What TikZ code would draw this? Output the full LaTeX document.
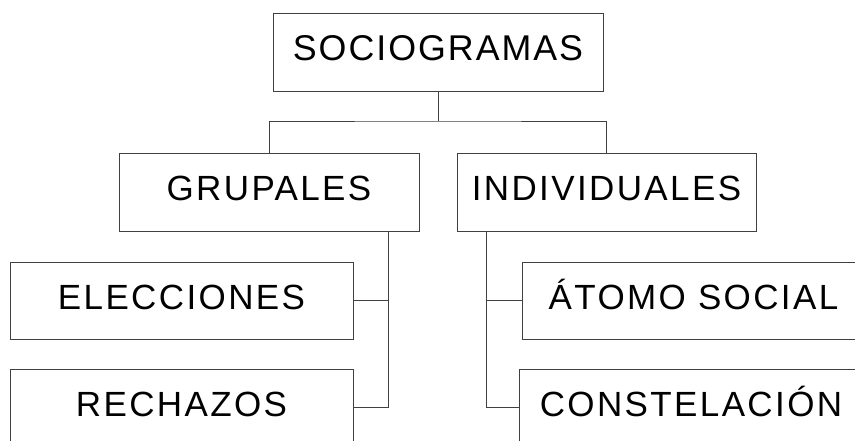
\documentclass[tikz,border=0pt]{standalone}
\usepackage{fontspec}
\setmainfont{Liberation Sans}
\newfontfamily\lowf[LetterSpace=6.8]{Liberation Sans}
\newfontfamily\topf[LetterSpace=5.5]{Liberation Sans}
\usetikzlibrary{positioning}
\tikzset{
  boxnode/.style={draw=black!75, line width=0.9pt, inner sep=0pt, text height=25pt, text depth=7pt},
  lowtext/.style={font=\lowf\fontsize{35}{42}\selectfont},
  toptext/.style={font=\topf\fontsize{35.8}{43}\selectfont},
  conn/.style={draw=black!75, line width=0.9pt}
}
\begin{document}
\begin{tikzpicture}[x=1pt,y=-1pt]
\useasboundingbox (0,0) rectangle (855,441);
\node[boxnode,toptext,minimum width=330pt,minimum height=78pt, text height=25.6pt, text depth=8pt] (soc) at (438,52) {SOCIOGRAMAS};
\node[boxnode,lowtext,minimum width=300pt,minimum height=78pt] (gru) at (269,192) {GRUPALES};
\node[boxnode,lowtext,minimum width=299pt,minimum height=78pt] (ind) at (606.5,192) {INDIVIDUALES};
\node[boxnode,lowtext,minimum width=343pt,minimum height=77pt] (ele) at (181.5,300.5) {ELECCIONES};
\node[boxnode,lowtext,minimum width=343pt,minimum height=77pt] (rec) at (181.5,407.5) {RECHAZOS};
\node[boxnode,lowtext,minimum width=343pt,minimum height=77pt] (ato) at (693.5,300.5) {ÁTOMO SOCIAL};
\node[boxnode,lowtext,minimum width=343pt,minimum height=77pt] (con) at (691,407.5) {CONSTELACIÓN};
\coordinate (j) at (438,121);
\draw[conn] (soc.south) -- (j);
\draw[conn] (gru.north) |- (j) -| (ind.north);
\draw[conn] ([xshift=-31pt]gru.south east) |- (ele.east);
\draw[conn] ([xshift=-31pt]gru.south east) |- (rec.east);
\draw[conn] ([xshift=30pt]ind.south west) |- (ato.west);
\draw[conn] ([xshift=30pt]ind.south west) |- (con.west);
\end{tikzpicture}
\end{document}
